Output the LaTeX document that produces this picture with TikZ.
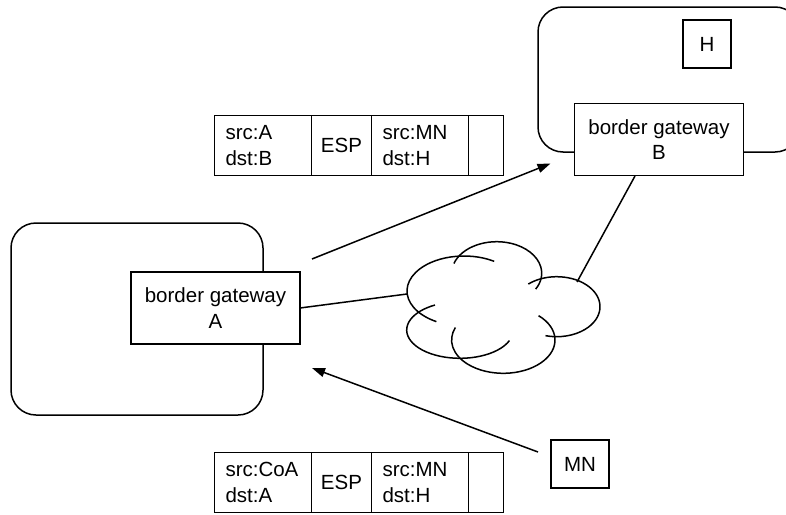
\documentclass[tikz,border=0pt]{standalone}
\usepackage{fontspec}
\setmainfont{Liberation Sans}
\usetikzlibrary{positioning,arrows.meta}

\begin{document}
\begin{tikzpicture}
  [x=1pt,y=-1pt,line width=1.5pt,
   every node/.style={draw,fill=white,inner sep=0pt,outer sep=0pt,font=\fontsize{20.5}{25.5}\selectfont,align=center},
   net/.style={rounded corners=25pt,fill=none},
   gateway/.style={minimum width=169pt,minimum height=72pt},
   cell/.style={minimum height=60pt,inner xsep=11pt,align=left},
   link/.style={-{Triangle[length=13pt,width=9pt]}}]
  \useasboundingbox (0,0) rectangle (786,514);

  \node[net,minimum width=252pt,minimum height=192pt] (netA) at (137,319) {};
  \node[net,minimum width=262pt,minimum height=145pt] (netB) at (669,79.5) {};
  \node[gateway] (gwA) at (215.5,308) {border gateway\\A};
  \node[gateway] (gwB) at (659,139.5) {border gateway\\B};
  \node[minimum size=48pt] (H) at (707,44) {H};
  \node[minimum width=58pt,minimum height=48pt] (MN) at (580,464) {MN};

  \node[cell,text width=75pt,anchor=west] (t1) at (214.5,145.5) {src:A\\dst:B};
  \node[cell,inner xsep=0pt,minimum width=60pt,right=0pt of t1] (t2) {ESP};
  \node[cell,text width=75pt,right=0pt of t2] (t3) {src:MN\\dst:H};
  \node[cell,inner xsep=0pt,minimum width=35pt,right=0pt of t3] (t4) {};

  \node[cell,text width=75pt,anchor=west] (b1) at (214.5,482.5) {src:CoA\\dst:A};
  \node[cell,inner xsep=0pt,minimum width=60pt,right=0pt of b1] (b2) {ESP};
  \node[cell,text width=75pt,right=0pt of b2] (b3) {src:MN\\dst:H};
  \node[cell,inner xsep=0pt,minimum width=35pt,right=0pt of b3] (b4) {};

  \draw ([shift={(-58:57 and 35)}]464,291) arc[start angle=-58,end angle=-241,x radius=57,y radius=35];
  \draw ([shift={(-162:45 and 31.6)}]496.7,273.3) arc[start angle=-162,end angle=30,x radius=45,y radius=31.6];
  \draw ([shift={(-131:43.3 and 30)}]556.7,306.7) arc[start angle=-131,end angle=105,x radius=43.3,y radius=30];
  \draw ([shift={(-47:51.7 and 33.3)}]503.3,340) arc[start angle=-47,end angle=202,x radius=51.7,y radius=33.3];
  \draw ([shift={(22:53.3 and 28.3)}]460,330) arc[start angle=22,end angle=242,x radius=53.3,y radius=28.3];
  \coordinate (cloudW) at (407,294);
  \coordinate (cloudNE) at (577,282);
  \coordinate (gwBfoot) at (635,176);

  \foreach \from/\to in {gwA.east/cloudW,gwBfoot/cloudNE}
    \draw (\from) -- (\to);

  \draw[link] ([shift={(12,-13)}]gwA.north east) -- ([shift={(-24,-12)}]gwB.south west);
  \draw[link] ([shift={(-13,12)}]MN.north west) -- ([shift={(12,24)}]gwA.south east);

\end{tikzpicture}
\end{document}
